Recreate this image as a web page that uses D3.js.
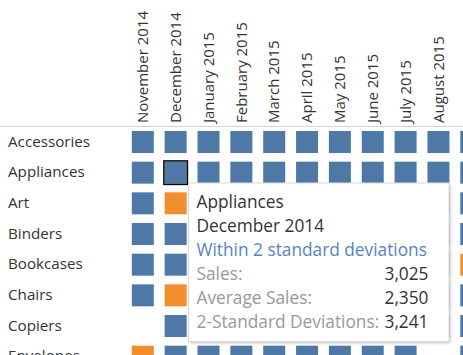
<!DOCTYPE html>
<html><head><meta charset="utf-8">
<script src="https://cdn.jsdelivr.net/npm/d3@7"></script>
<style>
body{margin:0;background:#fff;}
svg{display:block;font-family:"Open Sans",sans-serif;}
</style></head>
<body>
<svg id="chart" width="463" height="355"></svg>
<script>
// ---- data ----
const subCategories = ["Accessories","Appliances","Art","Binders","Bookcases","Chairs","Copiers","Envelopes"];
const months = ["November 2014","December 2014","January 2015","February 2015","March 2015","April 2015",
                "May 2015","June 2015","July 2015","August 2015","September 2015"];
// status per sub-category and month: "in" = within 2 std devs, "out" = outside, null = no sales
const statusAccessories = ["in","in","in","in","in","in","in","in","in","in","in"];
const statusAppliances  = ["in","in","in","in","in","in","in","in","in","in","in"];
const statusArt         = ["in","out","in","in","in","in","in","in","in","in","in"];
const statusBinders     = ["in","in","in","in","in","in","in","in","in","in","in"];
const statusBookcases   = ["in","in","in","in","in","in","in","in","in","in","out"];
const statusChairs      = ["in","out","in","in","in","in","in","in","in","in","in"];
const statusCopiers     = [null,"in","in","in","in","in","in","in","in","in","in"];
const statusEnvelopes   = ["out","in","in","in","in","in","in","in","in",null,"in"];
const statusRows = [statusAccessories,statusAppliances,statusArt,statusBinders,statusBookcases,statusChairs,statusCopiers,statusEnvelopes];
const statusLabels = {in:"Within 2 standard deviations", out:"Outside 2 standard deviations"};
// tooltip of the highlighted mark
const tipSubCategory = "Appliances";
const tipMonth = "December 2014";
const tipStatus = "in";
const tipFieldNames = ["Sales:","Average Sales:","2-Standard Deviations:"];
const tipFieldValues = [3025, 2350, 3241];

// ---- layout ----
const svg = d3.select("#chart");
const colStep = 32.85, rowStep = 30.67, pad = 0.33;
const colStart = 131.8, rowStart = 131;
const x = d3.scaleBand().domain(months)
  .range([colStart - colStep*pad/2, colStart - colStep*pad/2 + months.length*colStep])
  .paddingInner(pad).paddingOuter(pad/2);
const rowPad = 0.283;
const y = d3.scaleBand().domain(subCategories)
  .range([rowStart - rowStep*rowPad/2, rowStart - rowStep*rowPad/2 + subCategories.length*rowStep])
  .paddingInner(rowPad).paddingOuter(rowPad/2);
const color = d3.scaleOrdinal().domain(["in","out"]).range(["#4e79a7","#f28e2b"]);

// header separator
svg.append("line").attr("x1",0).attr("x2",463).attr("y1",126.5).attr("y2",126.5)
  .attr("stroke","#d4d4d4").attr("stroke-width",1);

// column axis (rotated labels)
const xAxis = svg.append("g").attr("transform","translate(0,123)")
  .call(d3.axisTop(x).tickSize(0).tickPadding(0));
xAxis.select(".domain").remove();
xAxis.selectAll("text")
  .attr("transform","rotate(-90)").attr("x",0).attr("y",5.2).attr("dy",0)
  .attr("text-anchor","start").attr("fill","#333").attr("font-size",15)
  .attr("font-family","Open Sans");

// row axis
const yAxis = svg.append("g").attr("transform","translate(8,0)")
  .call(d3.axisLeft(y).tickSize(0).tickPadding(0));
yAxis.select(".domain").remove();
yAxis.selectAll("text")
  .attr("x",0).attr("dy",0).attr("y",4.8).attr("text-anchor","start")
  .attr("fill","#333").attr("font-size",15.2).attr("font-family","Open Sans");

// cells
const cells = [];
subCategories.forEach((s,i) => months.forEach((m,j) => {
  const st = statusRows[i][j];
  if (st) cells.push({s, m, st});
}));
svg.append("g").selectAll("rect").data(cells).join("rect")
  .attr("x", d => x(d.m)).attr("y", d => y(d.s))
  .attr("width", x.bandwidth()).attr("height", y.bandwidth())
  .attr("fill", d => color(d.st));

// highlighted mark outline
svg.append("rect")
  .attr("x", x(tipMonth) - 0.75).attr("y", y(tipSubCategory) - 0.75)
  .attr("width", x.bandwidth() + 1.5).attr("height", y.bandwidth() + 1.5)
  .attr("fill","none").attr("stroke","#000").attr("stroke-width",1.5);

// tooltip
const defs = svg.append("defs");
const f = defs.append("filter").attr("id","shadow").attr("x","-10%").attr("y","-10%").attr("width","130%").attr("height","130%");
f.append("feGaussianBlur").attr("stdDeviation",1.5);
const tx = 188.5, ty = 183, tw = 260.5, th = 158.5;
svg.append("rect").attr("x",tx+1.5).attr("y",ty+1.5).attr("width",tw).attr("height",th)
  .attr("fill","#9a9a9a").attr("opacity",0.6).attr("filter","url(#shadow)");
svg.append("rect").attr("x",tx).attr("y",ty).attr("width",tw).attr("height",th)
  .attr("fill","#fff").attr("stroke","#d9d9d9").attr("stroke-width",1);

const tip = svg.append("g").attr("font-size",17.3).attr("font-family","Open Sans");
const fmt = d3.format(",");
const lx = 196.5, rx = 428.5, base = 208, lh = 24;
tip.append("text").attr("x",lx).attr("y",base).attr("fill","#333").text(tipSubCategory);
tip.append("text").attr("x",lx).attr("y",base+lh).attr("fill","#333").text(tipMonth);
tip.append("text").attr("x",lx).attr("y",base+2*lh).attr("fill","#5784bd").text(statusLabels[tipStatus]);
tipFieldNames.forEach((n,i) => {
  tip.append("text").attr("x",lx).attr("y",base+(3+i)*lh).attr("fill","#999").text(n);
  tip.append("text").attr("x",rx).attr("y",base+(3+i)*lh).attr("fill","#333")
    .attr("text-anchor","end").text(fmt(tipFieldValues[i]));
});
</script></body></html>
